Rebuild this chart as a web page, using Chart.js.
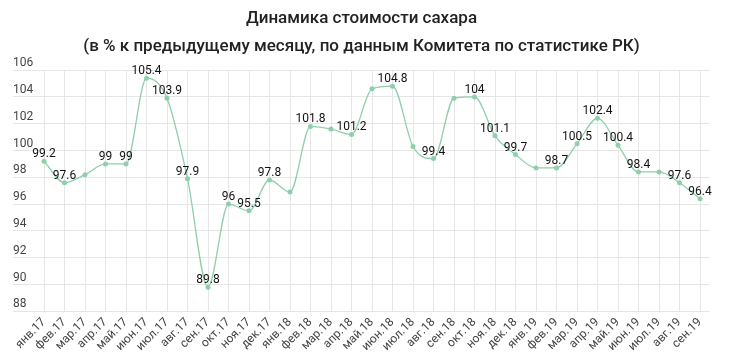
<!DOCTYPE html>
<html><head><meta charset="utf-8">
<script src="https://cdn.jsdelivr.net/npm/chart.js@4/dist/chart.umd.min.js"></script>
<style>html,body{margin:0;padding:0;background:#fff}</style>
</head><body>
<canvas id="c" width="730" height="360"></canvas>
<script>
const categories = ['янв.17','фев.17','мар.17','апр.17','май.17','июн.17','июл.17','авг.17','сен.17','окт.17','ноя.17','дек.17',
  'янв.18','фев.18','мар.18','апр.18','май.18','июн.18','июл.18','авг.18','сен.18','окт.18','ноя.18','дек.18',
  'янв.19','фев.19','мар.19','апр.19','май.19','июн.19','июл.19','авг.19','сен.19'];
const values = [99.2,97.6,98.2,99,99,105.4,103.9,97.9,89.8,96,95.5,97.8,
  96.9,101.8,101.6,101.2,104.6,104.8,100.3,99.4,103.9,104,101.1,99.7,
  98.7,98.7,100.5,102.4,100.4,98.4,98.4,97.6,96.4];
const labeled = [true,true,false,true,true,true,true,true,true,true,true,true,
  false,true,false,true,false,true,false,true,false,true,true,true,
  false,true,true,true,true,true,false,true,true];
const titleLines = ['Динамика стоимости сахара','(в % к предыдущему месяцу, по данным Комитета по статистике РК)'];
const yMin = 88, yMax = 106, yStep = 2;

const gridColor = '#e6e6e6';
const lineColor = '#8fcfac';

const pointLabels = {
  id: 'pointLabels',
  afterDatasetsDraw(chart) {
    const ctx = chart.ctx;
    const meta = chart.getDatasetMeta(0);
    ctx.save();
    ctx.font = '12px Roboto';
    ctx.fillStyle = '#111';
    ctx.textAlign = 'center';
    ctx.textBaseline = 'alphabetic';
    meta.data.forEach((pt, i) => {
      if (!labeled[i]) return;
      ctx.fillText(String(values[i]), pt.x, pt.y - 4);
    });
    ctx.restore();
  }
};

new Chart(document.getElementById('c'), {
  type: 'line',
  data: {
    labels: categories,
    datasets: [{
      data: values,
      borderColor: lineColor,
      backgroundColor: lineColor,
      borderWidth: 1.3,
      pointRadius: 2.5,
      pointBorderWidth: 0,
      pointBackgroundColor: lineColor,
      cubicInterpolationMode: 'monotone',
      fill: false
    }]
  },
  options: {
    responsive: false,
    animation: false,
    devicePixelRatio: 1,
    layout: { padding: { left: 13, right: 20, top: 0, bottom: 2 } },
    plugins: {
      legend: { display: false },
      tooltip: { enabled: false },
      title: {
        display: true,
        text: titleLines,
        color: '#222',
        font: { family: 'Roboto', size: 17, weight: '500', lineHeight: 1.65 },
        padding: { top: 5, bottom: 9 }
      }
    },
    scales: {
      x: {
        grid: { color: gridColor, drawTicks: false },
        border: { display: false },
        ticks: { minRotation: 45, maxRotation: 45, autoSkip: false, color: '#444', font: { family: 'Roboto', size: 12 }, padding: 4 }
      },
      y: {
        position: 'left',
        min: yMin, max: yMax,
        grid: { color: gridColor, tickLength: 31 },
        border: { display: false },
        ticks: { stepSize: yStep, crossAlign: 'far', labelOffset: -7, padding: 0, color: '#444', font: { family: 'Roboto', size: 12 } },
        afterFit(s) { s.width = 31; }
      },
      y2: {
        position: 'right',
        min: yMin, max: yMax,
        grid: { color: gridColor, tickLength: 10, drawOnChartArea: false },
        border: { display: false },
        ticks: { stepSize: yStep, display: false },
        afterFit(s) { s.width = 10; }
      }
    }
  },
  plugins: [pointLabels]
});
</script>
</body></html>
